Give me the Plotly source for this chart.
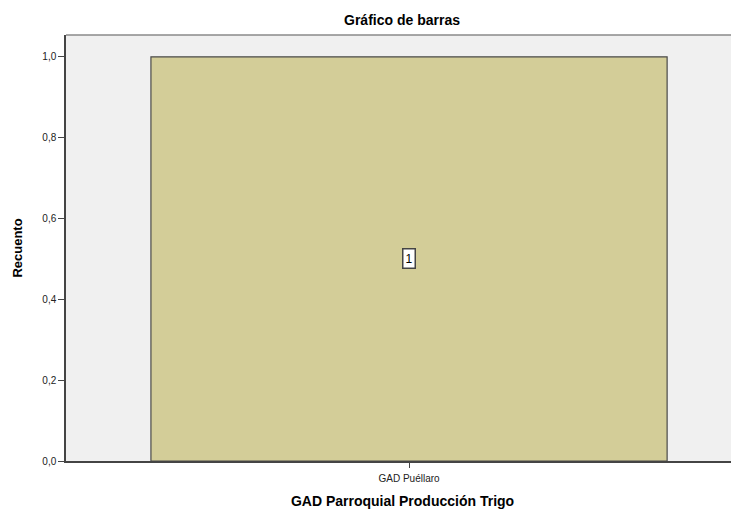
import plotly.graph_objects as go

# data
categorias = ["GAD Puéllaro"]
recuento = [1]
etiquetas = ["1"]

fig = go.Figure()

fig.add_trace(go.Bar(
    x=categorias,
    y=recuento,
    width=0.767,
    marker=dict(color="#d3cd98", line=dict(color="#4a4a4a", width=1.2)),
    hoverinfo="x+y",
))

# value label in the middle of the bar
for cat, val, lab in zip(categorias, recuento, etiquetas):
    fig.add_annotation(
        x=cat, y=val / 2, text=lab, showarrow=False,
        font=dict(family="Liberation Sans, Arial", size=12, color="black"),
        bgcolor="white", bordercolor="#444444", borderwidth=1.5, borderpad=2,
    )

# grey top border of the plot frame
fig.add_shape(type="line", xref="paper", yref="paper", x0=0, x1=1, y0=1, y1=1,
              line=dict(color="#8a8a8a", width=1.5))

# page body keeps an 8px margin, so the figure starts at (8, 8)
fig.update_layout(
    width=731, height=501,
    margin=dict(l=58, r=0, t=27, b=48),
    paper_bgcolor="white",
    plot_bgcolor="#f0f0f0",
    font=dict(family="Liberation Sans, Arial", color="black"),
    showlegend=False,
    title=dict(text="<b>Gráfico de barras</b>", x=0.539, xanchor="center",
               y=1 - 12 / 501, yanchor="middle", font=dict(size=14)),
    xaxis=dict(
        range=[-0.5097, 0.4903],
        automargin=False,
        showgrid=False, zeroline=False,
        showline=True, linecolor="#444444", linewidth=1.5,
        ticks="outside", ticklen=5, tickcolor="#444444",
        ticklabelstandoff=2,
        tickfont=dict(size=10, color="#222222"),
        title=dict(text="<b>GAD Parroquial Producción Trigo</b>",
                   font=dict(size=14), standoff=17),
    ),
    yaxis=dict(
        range=[0, 1.054],
        automargin=False,
        tickvals=[0, 0.2, 0.4, 0.6, 0.8, 1.0],
        ticktext=["0,0", "0,2", "0,4", "0,6", "0,8", "1,0"],
        showgrid=False, zeroline=False,
        showline=True, linecolor="#444444", linewidth=1.5,
        ticks="outside", ticklen=6, tickcolor="#444444",
        tickfont=dict(size=10, color="#222222"),
        title=dict(text="<b>Recuento</b>", font=dict(size=13), standoff=17),
    ),
)

fig.write_html("out.html")
